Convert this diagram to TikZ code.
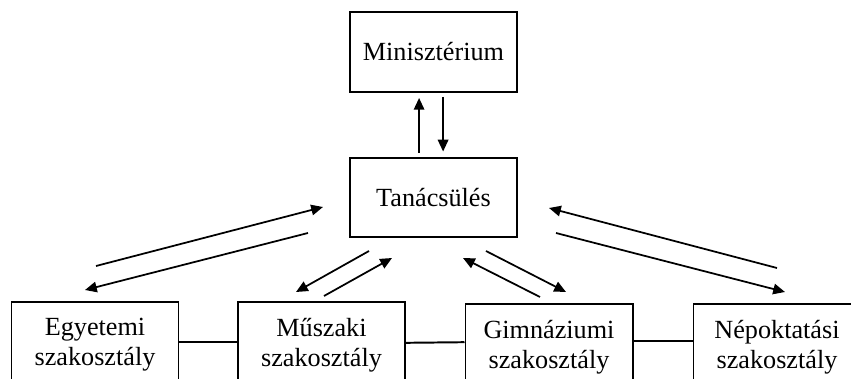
\documentclass[tikz,border=0pt]{standalone}
\usepackage{fontspec}
\setmainfont{Liberation Serif}
\usetikzlibrary{arrows.meta,positioning}

\begin{document}
\begin{tikzpicture}[x=0.458pt, y=-0.458pt,
  box/.style={draw, line width=0.9pt, minimum width=76.5pt, align=center,
              font=\fontsize{12}{13.8}\selectfont},
  topbox/.style={box, minimum height=36.6pt},
  unitbox/.style={box, minimum height=39.4pt},
  arr/.style={-{Triangle[length=5.4pt,width=4.8pt]}, line width=0.8pt},
  link/.style={line width=0.9pt}]
  \useasboundingbox (0,0) rectangle (851,379);

  % upper boxes
  \node[topbox] (mini) at (433.5,52) {Minisztérium};
  \node[topbox] (tan) at (433.5,197.5) {Tanácsülés};

  % sections
  \node[unitbox] (egy) at (95,345) {Egyetemi\\szakosztály};
  \node[unitbox] (musz) at (321.5,345) {Műszaki\\szakosztály};
  \node[unitbox] (gimn) at (549,347) {Gimnáziumi\\szakosztály};
  \node[unitbox] (nep) at (777,347) {Népoktatási\\szakosztály};

  % between the sections
  \draw[link] ([yshift=1.4pt]egy.east) -- ([yshift=1.4pt]musz.west);
  \draw[link] ([yshift=1pt]musz.east) -- ([yshift=2.2pt]gimn.west);
  \draw[link] ([yshift=2.6pt]gimn.east) -- ([yshift=2.6pt]nep.west);

  % Minisztérium <-> Tanácsülés
  \draw[arr, shorten <=1.8pt, shorten >=2.3pt]
    ([xshift=-6.6pt]tan.north) -- ([xshift=-6.6pt]mini.south);
  \draw[arr, shorten <=1.8pt, shorten >=2.3pt]
    ([xshift=4.4pt]mini.south) -- ([xshift=4.4pt]tan.north);

  % end points of the diagonal arrows
  \coordinate (e1) at (96,266);  \coordinate (e2) at (323,207);
  \coordinate (e3) at (308,233); \coordinate (e4) at (85,290);
  \coordinate (m1) at (369,251); \coordinate (m2) at (296,292);
  \coordinate (m3) at (324,296); \coordinate (m4) at (392,258);
  \coordinate (g1) at (540,297); \coordinate (g2) at (463,258);
  \coordinate (g3) at (486,251); \coordinate (g4) at (566,292);
  \coordinate (n1) at (777,268); \coordinate (n2) at (549,208);
  \coordinate (n3) at (556,233); \coordinate (n4) at (785,292);

  % Tanácsülés <-> sections
  \draw[arr] (e1) -- (e2);
  \draw[arr] (e3) -- (e4);
  \draw[arr] (m1) -- (m2);
  \draw[arr] (m3) -- (m4);
  \draw[arr] (g1) -- (g2);
  \draw[arr] (g3) -- (g4);
  \draw[arr] (n1) -- (n2);
  \draw[arr] (n3) -- (n4);

\end{tikzpicture}
\end{document}
